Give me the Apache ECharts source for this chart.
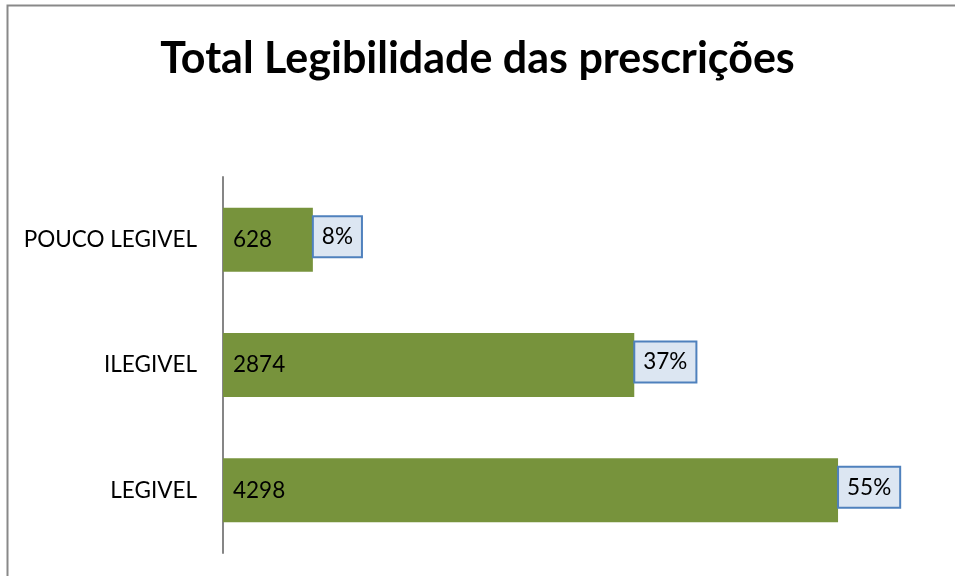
<!doctype html>
<html lang="pt">
<head>
    <meta charset="utf-8">
    <title>Total Legibilidade das prescrições</title>
    <script src="https://cdn.jsdelivr.net/npm/echarts@6/dist/echarts.min.js"></script>
    <style>
        *{margin:0;padding:0}
        html,body{width:100%;height:100%;background:#fff}
        #main{width:955px;height:576px}
    </style>
</head>
<body>
<div id="main"></div>
<script type="text/javascript">
    var categories = ['LEGIVEL', 'ILEGIVEL', 'POUCO LEGIVEL'];
    var totals = [4298, 2874, 628];
    var percents = [55, 37, 8];

    var fontFamily = 'Lato, "Liberation Sans", sans-serif';
    var myChart = echarts.init(document.getElementById('main'));

    var option = {
        animation: false,
        textStyle: {fontFamily: fontFamily},
        title: {
            text: 'Total Legibilidade das prescrições',
            left: 'center',
            top: 33,
            textStyle: {
                fontFamily: fontFamily,
                fontSize: 43,
                fontWeight: 'bold',
                color: '#000'
            }
        },
        graphic: [{
            type: 'rect',
            shape: {x: 7.5, y: 5.5, width: 970, height: 600},
            style: {fill: 'none', stroke: '#898989', lineWidth: 2},
            silent: true
        }],
        grid: {left: 223, top: 177, height: 376, right: 16.5},
        xAxis: {
            type: 'value',
            min: 0,
            max: 5000,
            show: false
        },
        yAxis: {
            type: 'category',
            data: categories,
            axisLine: {show: true, lineStyle: {color: '#868686', width: 2}},
            axisTick: {show: false},
            axisLabel: {
                margin: 26,
                fontSize: 22.5,
                color: '#000',
                fontFamily: fontFamily
            }
        },
        series: [{
            name: 'Total',
            type: 'bar',
            data: totals,
            barCategoryGap: '49%',
            itemStyle: {color: '#77933C'},
            label: {
                show: true,
                position: 'insideLeft',
                distance: 10,
                fontSize: 22.5,
                color: '#000',
                fontFamily: fontFamily
            },
            z: 2
        }, {
            name: 'Percent',
            type: 'bar',
            data: totals,
            barGap: '-100%',
            barCategoryGap: '49%',
            itemStyle: {color: 'rgba(0,0,0,0)'},
            label: {
                show: true,
                position: 'right',
                distance: 1,
                offset: [0, -3],
                formatter: function (p) {
                    return percents[p.dataIndex] + '%';
                },
                fontSize: 22.5,
                lineHeight: 23,
                color: '#000',
                fontFamily: fontFamily,
                backgroundColor: '#DCE6F2',
                borderColor: '#4F81BD',
                borderWidth: 2,
                padding: [8, 8, 8, 8]
            },
            z: 3
        }]
    };
    myChart.setOption(option);
</script>
</body>
</html>
